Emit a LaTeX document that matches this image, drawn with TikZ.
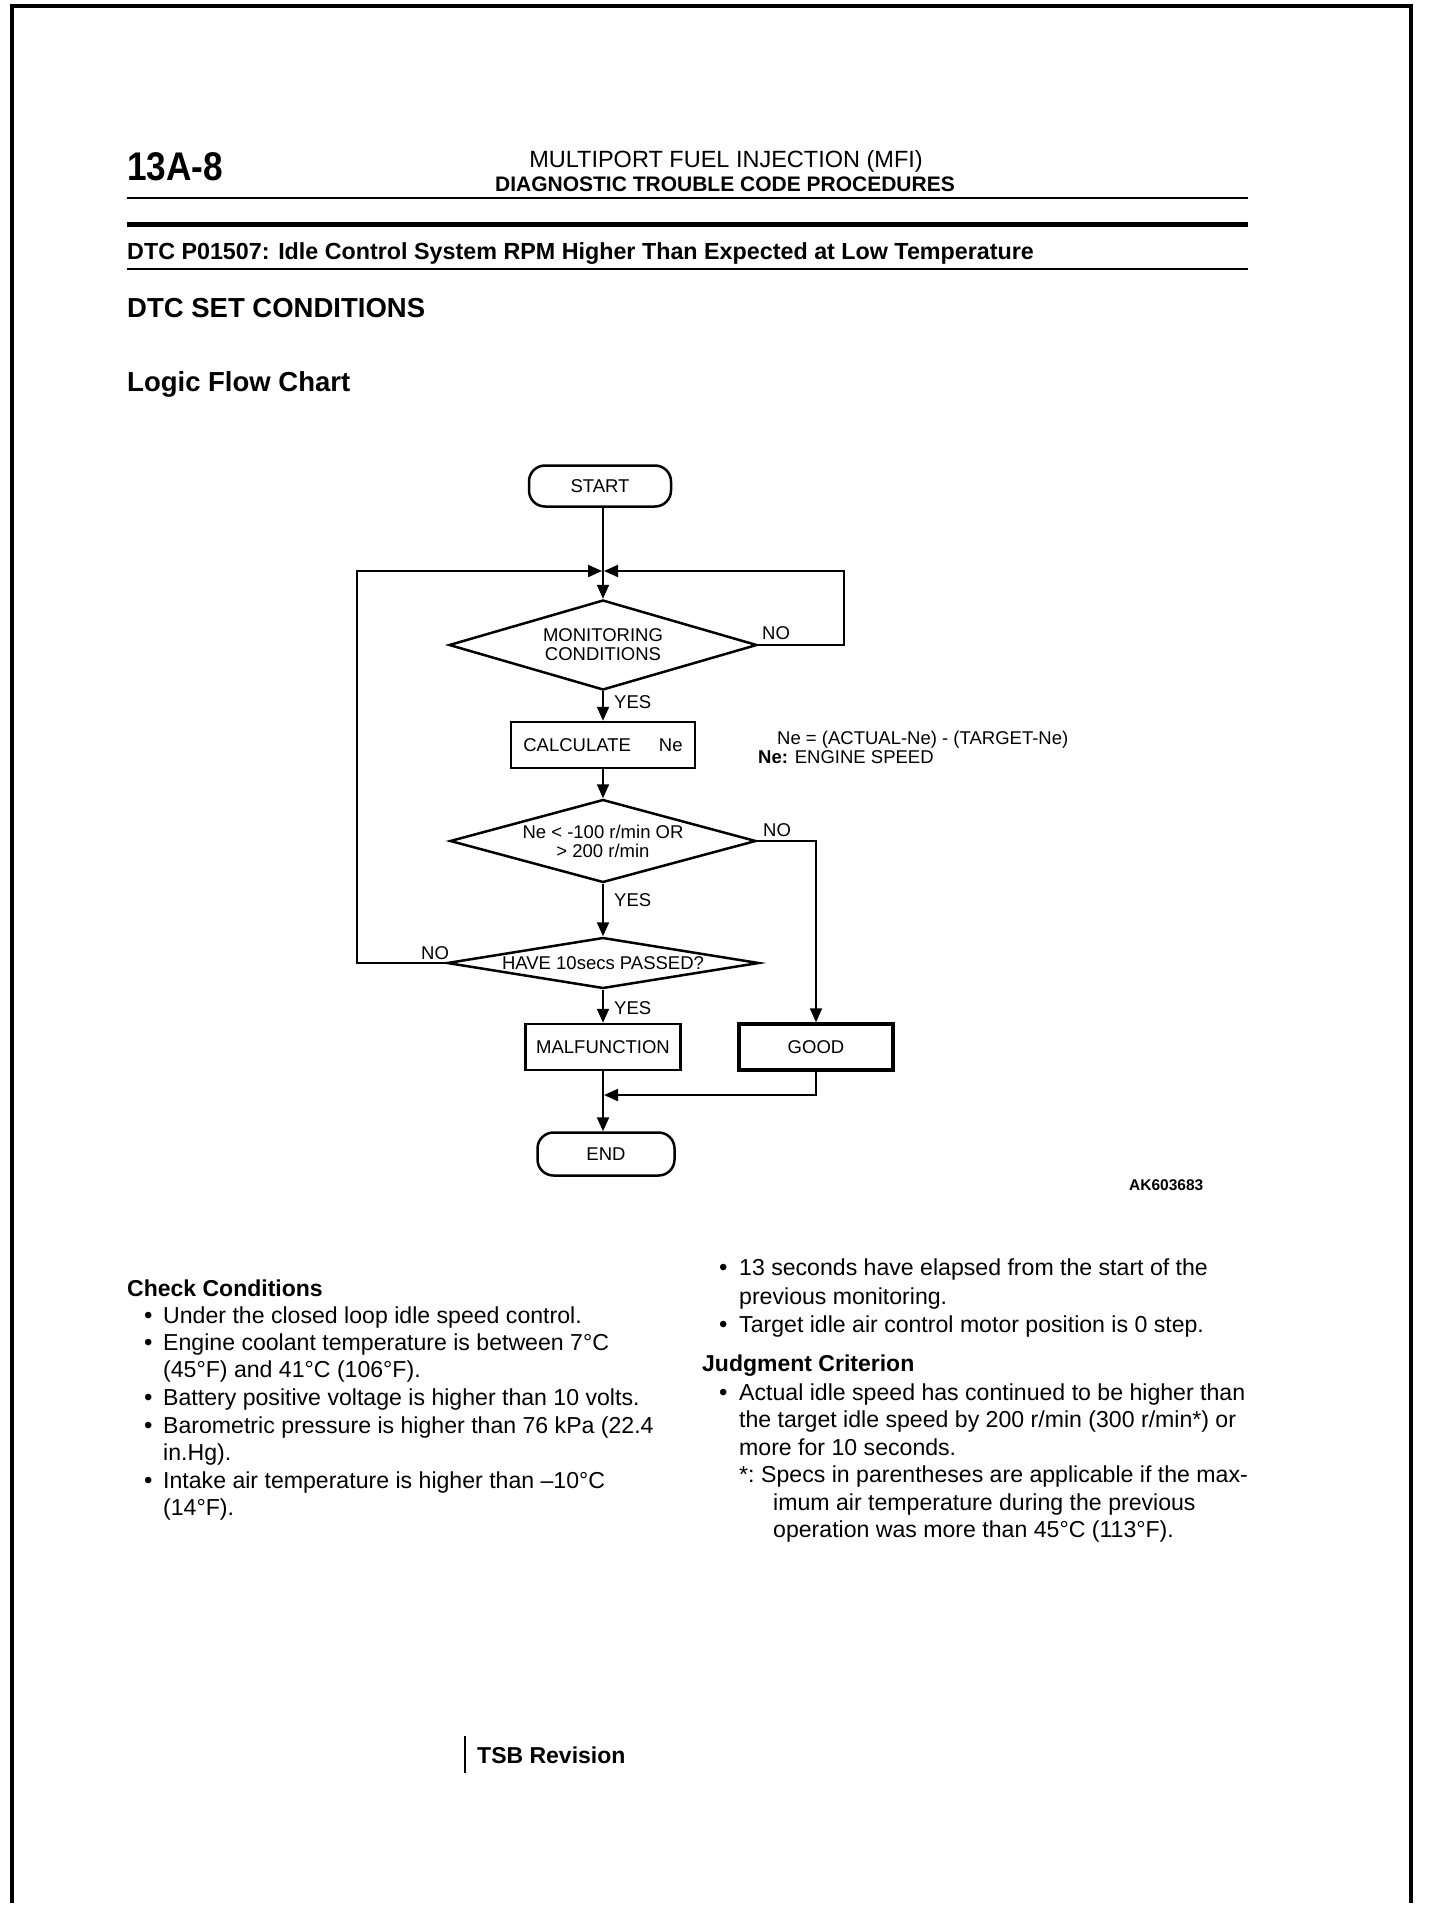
\documentclass[tikz,border=0pt]{standalone}
\usepackage{fontspec}
\setmainfont{Liberation Sans}
\usetikzlibrary{shapes.geometric,arrows.meta}
\begin{document}
\begin{tikzpicture}[x=1pt,y=-1pt,
  body/.style={anchor=base west, inner sep=0pt, font=\fontsize{23.1}{27}\selectfont},
  bodyb/.style={anchor=base west, inner sep=0pt, font=\fontsize{23}{27}\selectfont\bfseries},
  bul/.style={anchor=base west, inner sep=0pt, font=\fontsize{24}{26}\selectfont},
  fc/.style={font=\fontsize{18.5}{19}\selectfont},
  lab/.style={anchor=base west, inner sep=0pt, font=\fontsize{18.5}{19}\selectfont},
  box/.style={draw, line width=2.5pt, rectangle, inner sep=0pt, fc},
  term/.style={draw, line width=2.5pt, rounded corners=16pt, inner sep=0pt, fc},
  dia/.style={draw, line width=2.5pt, diamond, inner sep=0pt, align=center, fc},
  arr/.style={line width=2pt, -{Triangle[length=14pt,width=12pt]}},
  ln/.style={line width=2pt}]
\fill[white] (0,0) rectangle (1440,1918);
\useasboundingbox (0,0) rectangle (1440,1918);
% page border
\draw[line width=3.5pt] (12,1903) -- (12,6) -- (1411,6) -- (1411,1903);
% header
\node[anchor=base west, inner sep=0pt] (pg) at (127,181) {\scalebox{0.88}[1]{\fontsize{40}{42}\selectfont\bfseries 13A-8}};
\node[anchor=base, inner sep=0pt, font=\fontsize{23.5}{25}\selectfont] (h1) at (726,168) {MULTIPORT FUEL INJECTION (MFI)};
\node[anchor=base, inner sep=0pt, font=\fontsize{21}{23}\selectfont\bfseries] (h2) at (725,192) {DIAGNOSTIC TROUBLE CODE PROCEDURES};
\draw[line width=2.5pt] (127,198) -- (1248,198);
\draw[line width=4.5pt] (127,224.5) -- (1248,224.5);
\node[anchor=base west, inner sep=0pt, font=\fontsize{23.3}{25}\selectfont\bfseries] (dtc) at (127,259) {DTC P01507: Idle Control System RPM Higher Than Expected at Low Temperature};
\draw[line width=2.5pt] (127,269) -- (1248,269);
\node[anchor=base west, inner sep=0pt, font=\fontsize{27.5}{30}\selectfont\bfseries] (set) at (127,317) {DTC SET CONDITIONS};
\node[anchor=base west, inner sep=0pt, font=\fontsize{27.5}{30}\selectfont\bfseries] (lfc) at (127,391) {Logic Flow Chart};
% flow chart
\node[term, minimum width=142pt, minimum height=41pt] (start) at (600,486) {START};
\node[dia, minimum width=308pt, minimum height=90pt, aspect=3.4] (d1) at (603,645) {MONITORING\\CONDITIONS};
\node[box, minimum width=184pt, minimum height=46pt] (calc) at (603,745) {CALCULATE\hspace{28pt}Ne};
\node[dia, minimum width=306pt, minimum height=83pt, aspect=3.7] (d2) at (603,841) {Ne < -100 r/min OR\\> 200 r/min};
\node[dia, minimum width=312pt, minimum height=51pt, aspect=6.1] (d3) at (603,963) {HAVE 10secs PASSED?};
\node[box, minimum width=155pt, minimum height=46pt] (malf) at (603,1047) {MALFUNCTION};
\node[box, line width=3.5pt, minimum width=154pt, minimum height=46pt] (good) at (816,1047) {GOOD};
\node[term, minimum width=137pt, minimum height=43pt] (end) at (606,1154) {END};
\coordinate (merge) at (603,571);
\coordinate (rloop) at (844,571);
\coordinate (lloop) at (357,571);
\coordinate (gj) at (603,1095);
\draw[arr] (start.south -| d1.north) -- (d1.north);
\draw[arr, shorten >=1pt] (d1.east) -| (rloop) -- (merge);
\draw[arr, shorten >=1pt] (d3.west) -| (lloop) -- (merge);
\draw[arr] (d1) -- (calc);
\draw[arr] (calc) -- (d2);
\draw[arr] (d2) -- (d3);
\draw[arr] (d3) -- (malf);
\draw[arr] (malf.south) -- (malf.south |- end.north);
\draw[arr] (d2.east) -| (good.north);
\draw[arr, shorten >=1pt] (good.south) |- (gj);
% flow labels
\node[lab] (no1) at (762,639) {NO};
\node[lab] (yes1) at (614,708) {YES};
\node[lab] (no2) at (763,836) {NO};
\node[lab] (yes2) at (614,906) {YES};
\node[lab] (no3) at (421,959) {NO};
\node[lab] (yes3) at (614,1014) {YES};
\node[lab] (eq1) at (777,744) {Ne = (ACTUAL-Ne) - (TARGET-Ne)};
\node[lab] (eq2) at (758,763) {\textbf{Ne:} ENGINE SPEED};
\node[anchor=base west, inner sep=0pt, font=\fontsize{15.5}{17}\selectfont\bfseries] (ak) at (1129,1190) {AK603683};
% left column
\node[bodyb] (cc) at (127,1296) {Check Conditions};
\node[bul] (b1) at (144,1323) {•};
\node[body] (l1) at (163,1323) {Under the closed loop idle speed control.};
\node[bul] (b2) at (144,1350) {•};
\node[body] (l2) at (163,1350) {Engine coolant temperature is between 7°C};
\node[body] (l3) at (163,1377) {(45°F) and 41°C (106°F).};
\node[bul] (b3) at (144,1405) {•};
\node[body] (l4) at (163,1405) {Battery positive voltage is higher than 10 volts.};
\node[bul] (b4) at (144,1433) {•};
\node[body] (l5) at (163,1433) {Barometric pressure is higher than 76 kPa (22.4};
\node[body] (l6) at (163,1460) {in.Hg).};
\node[bul] (b5) at (144,1488) {•};
\node[body] (l7) at (163,1488) {Intake air temperature is higher than –10°C};
\node[body] (l8) at (163,1515) {(14°F).};
% right column
\node[bul] (b6) at (719,1275) {•};
\node[body] (r1) at (739,1275) {13 seconds have elapsed from the start of the};
\node[body] (r2) at (739,1304) {previous monitoring.};
\node[bul] (b7) at (719,1332) {•};
\node[body] (r3) at (739,1332) {Target idle air control motor position is 0 step.};
\node[bodyb] (jc) at (702,1371) {Judgment Criterion};
\node[bul] (b8) at (719,1400) {•};
\node[body] (r4) at (739,1400) {Actual idle speed has continued to be higher than};
\node[body] (r5) at (739,1427) {the target idle speed by 200 r/min (300 r/min*) or};
\node[body] (r6) at (739,1455) {more for 10 seconds.};
\node[body] (r7) at (739,1482) {*:};
\node[body] (r8) at (761,1482) {Specs in parentheses are applicable if the max-};
\node[body] (r9) at (773,1510) {imum air temperature during the previous};
\node[body] (r10) at (773,1537) {operation was more than 45°C (113°F).};
% footer
\draw[line width=2.5pt] (465,1736) -- (465,1773);
\node[anchor=base west, inner sep=0pt, font=\fontsize{23}{25}\selectfont\bfseries] (tsb) at (477,1763) {TSB Revision};
\end{tikzpicture}
\end{document}
